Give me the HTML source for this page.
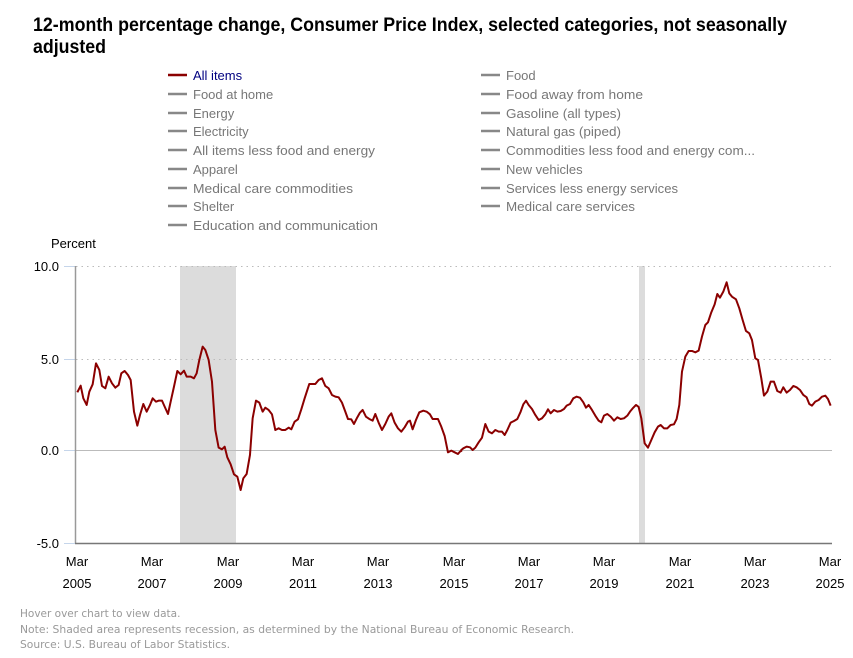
<!DOCTYPE html>
<html><head><meta charset="utf-8"><style>
html,body{margin:0;padding:0;background:#fff;}
svg{display:block;font-family:"Liberation Sans",sans-serif;}
</style></head><body>
<svg width="853" height="658" viewBox="0 0 853 658" xmlns="http://www.w3.org/2000/svg">
<text x="33" y="31" font-size="19" font-weight="bold" fill="#000" textLength="754" lengthAdjust="spacingAndGlyphs">12-month percentage change, Consumer Price Index, selected categories, not seasonally</text>
<text x="33" y="53" font-size="19" font-weight="bold" fill="#000" textLength="73" lengthAdjust="spacingAndGlyphs">adjusted</text>
<g font-size="13" fill="#777">
<line x1="168" x2="187" y1="75" y2="75" stroke="#8b0000" stroke-width="2.5"/><text x="193" y="80" fill="#000080">All items</text>
<g stroke="#888" stroke-width="2.5">
<line x1="168" x2="187" y1="94" y2="94"/><line x1="168" x2="187" y1="113" y2="113"/><line x1="168" x2="187" y1="131" y2="131"/><line x1="168" x2="187" y1="150" y2="150"/><line x1="168" x2="187" y1="169" y2="169"/><line x1="168" x2="187" y1="188" y2="188"/><line x1="168" x2="187" y1="206" y2="206"/><line x1="168" x2="187" y1="225" y2="225"/>
<line x1="481" x2="500" y1="75" y2="75"/><line x1="481" x2="500" y1="94" y2="94"/><line x1="481" x2="500" y1="113" y2="113"/><line x1="481" x2="500" y1="131" y2="131"/><line x1="481" x2="500" y1="150" y2="150"/><line x1="481" x2="500" y1="169" y2="169"/><line x1="481" x2="500" y1="188" y2="188"/><line x1="481" x2="500" y1="206" y2="206"/>
</g>
<text x="193" y="99">Food at home</text><text x="193" y="118">Energy</text><text x="193" y="136">Electricity</text><text x="193" y="155" textLength="182" lengthAdjust="spacingAndGlyphs">All items less food and energy</text><text x="193" y="174">Apparel</text><text x="193" y="193" textLength="160" lengthAdjust="spacingAndGlyphs">Medical care commodities</text><text x="193" y="211">Shelter</text><text x="193" y="230" textLength="185" lengthAdjust="spacingAndGlyphs">Education and communication</text>
<text x="506" y="80">Food</text><text x="506" y="99" textLength="137" lengthAdjust="spacingAndGlyphs">Food away from home</text><text x="506" y="118" textLength="115" lengthAdjust="spacingAndGlyphs">Gasoline (all types)</text><text x="506" y="136" textLength="115" lengthAdjust="spacingAndGlyphs">Natural gas (piped)</text><text x="506" y="155" textLength="249" lengthAdjust="spacingAndGlyphs">Commodities less food and energy com...</text><text x="506" y="174">New vehicles</text><text x="506" y="193" textLength="172" lengthAdjust="spacingAndGlyphs">Services less energy services</text><text x="506" y="211" textLength="129" lengthAdjust="spacingAndGlyphs">Medical care services</text>
</g>
<text x="51" y="248" font-size="13" fill="#000">Percent</text>
<rect x="180" y="266" width="56" height="277" fill="#dcdcdc"/>
<rect x="639" y="266" width="6" height="277" fill="#dcdcdc"/>
<g stroke="#bbb" stroke-width="1" stroke-dasharray="1.5,4">
<line x1="76" x2="832" y1="266.5" y2="266.5"/><line x1="76" x2="832" y1="359.5" y2="359.5"/>
</g>
<line x1="76" x2="832" y1="450.5" y2="450.5" stroke="#bbb"/>
<g stroke="#c5d5ea"><line x1="64" x2="75" y1="266.5" y2="266.5"/><line x1="64" x2="75" y1="359.5" y2="359.5"/><line x1="64" x2="75" y1="450.5" y2="450.5"/><line x1="64" x2="75" y1="543.5" y2="543.5"/></g>
<line x1="75.5" x2="75.5" y1="266" y2="543" stroke="#999" stroke-width="1.5"/>
<line x1="75" x2="832" y1="543.5" y2="543.5" stroke="#777" stroke-width="1.5"/>
<g font-size="13" fill="#000" text-anchor="end">
<text x="59" y="271">10.0</text><text x="59" y="364">5.0</text><text x="59" y="455">0.0</text><text x="59" y="548">-5.0</text>
</g>
<g font-size="13" fill="#000" text-anchor="middle">
<text x="77" y="566">Mar</text><text x="77" y="588">2005</text>
<text x="152" y="566">Mar</text><text x="152" y="588">2007</text>
<text x="228" y="566">Mar</text><text x="228" y="588">2009</text>
<text x="303" y="566">Mar</text><text x="303" y="588">2011</text>
<text x="378" y="566">Mar</text><text x="378" y="588">2013</text>
<text x="454" y="566">Mar</text><text x="454" y="588">2015</text>
<text x="529" y="566">Mar</text><text x="529" y="588">2017</text>
<text x="604" y="566">Mar</text><text x="604" y="588">2019</text>
<text x="680" y="566">Mar</text><text x="680" y="588">2021</text>
<text x="755" y="566">Mar</text><text x="755" y="588">2023</text>
<text x="830" y="566">Mar</text><text x="830" y="588">2025</text>
</g>
<g fill="none" stroke="#8b0000" stroke-width="2" stroke-linejoin="round">
<polyline vector-effect="non-scaling-stroke" transform="translate(60,255) scale(0.3333)" points="52,412 62,392 70,430 80,450 88,410 98,388 108,325 118,345 126,393 136,400 146,365 156,385 166,398 176,390 184,355 194,348 204,360 212,375 222,470 232,512 240,480 250,447 260,470 270,450 278,430 288,440 296,437 306,437 314,455 324,477 332,440 342,395 352,348 362,358 372,347 380,365 392,365 402,370 410,355 418,315 428,275 436,285 446,315 456,380 466,525 476,578 486,583 494,575 502,607 512,628 522,658 532,665 542,705 550,670 560,657 570,600 578,490 588,437 598,443 608,470 616,458 626,465 636,478 646,525 656,520 666,525 676,525 686,518 694,523 704,500 714,493 724,463 734,430 748,387 766,387 776,375 786,370 796,393 806,400 816,420 826,425 836,427 846,443 856,470 864,492 874,493 882,507 892,487 900,473 908,465 918,485 928,492 938,497 946,477 956,503 966,525 976,507 986,485 994,475 1004,503 1014,520 1024,530 1034,517 1044,500 1050,497 1058,523 1068,495 1078,472 1090,467 1100,470 1110,478 1118,492 1134,492 1144,515 1154,543 1164,592 1174,587 1184,592 1194,597 1200,590 1206,587"/>
<polyline vector-effect="non-scaling-stroke" transform="translate(440,255) scale(0.3333)" points="62,587 70,580 80,575 90,577 98,585 106,578 116,562 126,548 136,507 146,530 156,535 166,525 176,530 186,530 194,540 202,525 212,503 222,498 232,492 242,470 250,448 258,437 266,450 276,462 286,480 296,495 306,490 316,478 324,463 332,475 342,465 352,470 362,468 372,462 380,452 390,447 400,430 410,425 420,428 430,442 438,458 446,450 456,465 466,482 476,497 484,502 492,482 502,477 512,485 522,497 532,487 542,492 552,490 562,482 570,470 580,458 588,450 596,456 604,490 614,565 624,578 634,555 644,532 654,515 662,510 672,520 682,520 692,510 702,508 710,492 718,450 726,350 736,305 746,288 756,288 766,292 776,287 786,245 796,210 804,202 814,172 824,148 832,117 840,128 850,110 860,82 868,115 876,125 888,133 898,160 908,195 918,228 928,235 936,255 946,310 954,315 964,370 972,422 982,410 992,380 1002,380 1012,408 1022,413 1030,397 1040,413 1050,405 1060,393 1070,397 1080,405 1090,420 1100,427 1108,447 1116,452 1126,440 1136,435 1146,425 1156,422 1164,432 1172,452"/>
</g>
<g font-family="'DejaVu Sans',sans-serif" font-size="10.5" fill="#999">
<text x="20" y="617">Hover over chart to view data.</text>
<text x="20" y="633" textLength="554" lengthAdjust="spacingAndGlyphs">Note: Shaded area represents recession, as determined by the National Bureau of Economic Research.</text>
<text x="20" y="648" textLength="210" lengthAdjust="spacingAndGlyphs">Source: U.S. Bureau of Labor Statistics.</text>
</g>
</svg>
</body></html>
